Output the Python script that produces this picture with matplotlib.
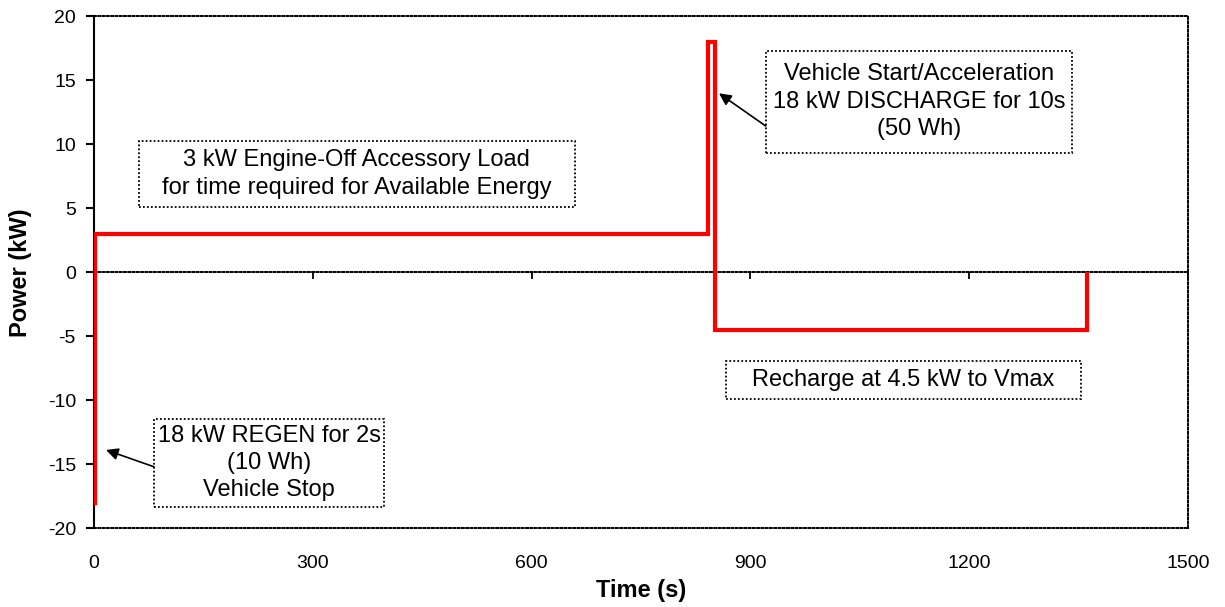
import matplotlib
matplotlib.use("Agg")
import matplotlib.pyplot as plt
from matplotlib.patches import Rectangle

plt.rcParams['font.family'] = ['Liberation Sans', 'DejaVu Sans']
plt.rcParams['axes.unicode_minus'] = False

# Power profile of the test cycle (time in s, power in kW)
time_s = [0, 2, 2, 842, 842, 852, 852, 1362, 1362]
power_kw = [-18, -18, 3, 3, 18, 18, -4.5, -4.5, 0]

x_ticks = [0, 300, 600, 900, 1200, 1500]
y_ticks = [-20, -15, -10, -5, 0, 5, 10, 15, 20]

# Callout boxes: (text, x0, x1, y0, y1) in data units
callouts = [
    ("3 kW Engine-Off Accessory Load\nfor time required for Available Energy", 62, 659, 5.08, 10.26),
    ("Vehicle Start/Acceleration\n18 kW DISCHARGE for 10s\n(50 Wh)", 921, 1341, 9.34, 17.31),
    ("18 kW REGEN for 2s\n(10 Wh)\nVehicle Stop", 82, 398, -18.34, -11.46),
    ("Recharge at 4.5 kW to Vmax", 867, 1353, -9.90, -6.93),
]
# Arrows: (tail x, tail y, head x, head y)
arrows = [
    (921, 11.43, 857, 13.98),
    (82, -15.19, 16.5, -13.88),
]

DOT = (0, (1, 1.2))

fig = plt.figure(figsize=(12.25, 6.07), dpi=100)
ax = fig.add_axes([0.07673, 0.12965, 0.89307, 0.8435])

ax.plot(time_s, power_kw, color='#FF0000', lw=3.0,
        solid_joinstyle='miter', solid_capstyle='butt', zorder=3)

ax.set_xlim(0, 1500)
ax.set_ylim(-20, 20)

# spines: solid value axis, dotted frame, dotted zero line carrying the x ticks
ax.spines['left'].set_linewidth(1.5)
for side in ('top', 'right'):
    ax.spines[side].set_linestyle(DOT)
    ax.spines[side].set_linewidth(1.4)
ax.spines['bottom'].set_position(('data', 0))
ax.spines['bottom'].set_linestyle(DOT)
ax.spines['bottom'].set_linewidth(1.4)

ax.set_xticks(x_ticks)
ax.set_yticks(y_ticks)
ax.tick_params(axis='x', direction='out', length=5, width=1.3, labelbottom=False)
ax.tick_params(axis='y', direction='out', length=6, width=1.5, pad=7, labelsize=14)

sec = ax.secondary_xaxis('bottom')
sec.set_xticks(x_ticks)
sec.tick_params(axis='x', length=0, pad=19, labelsize=14)
sec.spines['bottom'].set_linestyle(DOT)
sec.spines['bottom'].set_linewidth(1.4)

ax.set_ylabel("Power (kW)", fontsize=17, fontweight='bold')
ax.yaxis.set_label_coords(-0.0676, 0.5)
ax.yaxis.label.set_va('center')
fig.text(0.5233, 0.028, "Time (s)", ha='center', va='center',
         fontsize=17, fontweight='bold')

for text, x0, x1, y0, y1 in callouts:
    ax.add_patch(Rectangle((x0, y0), x1 - x0, y1 - y0, facecolor='white',
                           edgecolor='black', linestyle=DOT, lw=1.3, zorder=4))
    ax.text((x0 + x1) / 2, (y0 + y1) / 2, text, ha='center', va='center',
            multialignment='center', fontsize=17, linespacing=1.32,
            color='black', zorder=5)

for tx, ty, hx, hy in arrows:
    ax.annotate("", xy=(hx, hy), xytext=(tx, ty),
                arrowprops=dict(arrowstyle='-|>', color='black', lw=1.2,
                                mutation_scale=18, shrinkA=0, shrinkB=0),
                zorder=5)

fig.savefig("out.png", dpi=100)
